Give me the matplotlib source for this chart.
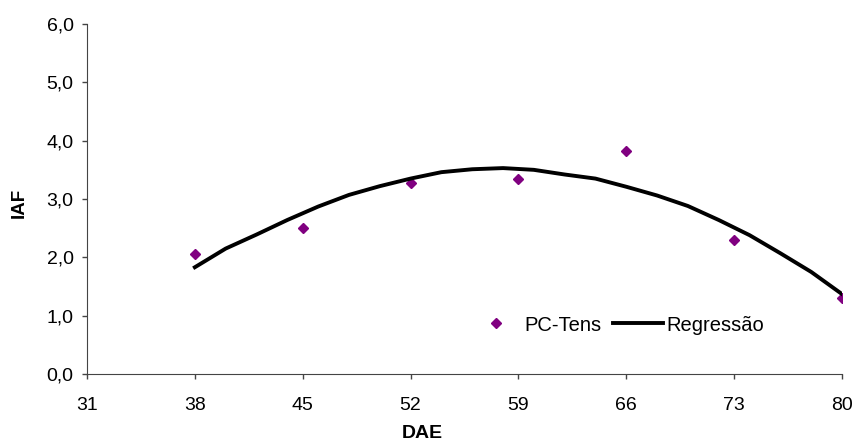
import numpy as np
import matplotlib.pyplot as plt

plt.rcParams['font.family'] = ['Liberation Sans', 'DejaVu Sans']

# observed values
dae = [38, 45, 52, 59, 66, 73, 80]
iaf = [2.05, 2.50, 3.28, 3.35, 3.83, 2.30, 1.30]

# regression curve
reg_x = [38, 40, 42, 44, 46, 48, 50, 52, 54, 56, 58, 60, 62, 64, 66, 68, 70, 72, 74, 76, 78, 80]
reg_y = [1.83, 2.15, 2.39, 2.64, 2.87, 3.07, 3.22, 3.35, 3.46, 3.51, 3.53, 3.50, 3.42, 3.35, 3.21,
         3.06, 2.88, 2.64, 2.38, 2.07, 1.75, 1.37]

xticks = [31, 38, 45, 52, 59, 66, 73, 80]
yticks = [0, 1, 2, 3, 4, 5, 6]
ytick_labels = ['0,0', '1,0', '2,0', '3,0', '4,0', '5,0', '6,0']

fig = plt.figure(figsize=(8.57, 4.47), dpi=100)
ax = fig.add_axes([0.1015, 0.1633, 0.881, 0.783])

ax.plot(dae, iaf, linestyle='none', marker='D', markersize=4.6, color='#800080', label='PC-Tens')
ax.plot(reg_x, reg_y, color='black', linewidth=2.8, label='Regressão')

ax.set_xlim(31, 80)
ax.set_ylim(0, 6)
ax.set_xticks(xticks)
ax.set_xticklabels([str(v) for v in xticks])
ax.set_yticks(yticks)
ax.set_yticklabels(ytick_labels)
ax.tick_params(labelsize=14, direction='out', length=3.6, width=1, colors='#444444', labelcolor='black')
ax.tick_params(axis='x', pad=13)
ax.tick_params(axis='y', pad=6)

for s in ['top', 'right']:
    ax.spines[s].set_visible(False)
for s in ['left', 'bottom']:
    ax.spines[s].set_color('#444444')

ax.set_xlabel('DAE', fontsize=14, fontweight='bold')
ax.xaxis.set_label_coords(0.444, -0.147)
ax.set_ylabel('IAF', fontsize=13.5, fontweight='bold')
ax.yaxis.set_label_coords(-0.079, 0.49)

ax.legend(loc='center', bbox_to_anchor=(0.703, 0.14), ncol=2, frameon=False, fontsize=14.5,
          handlelength=2.45, handletextpad=0.2, columnspacing=0.6)

plt.savefig('out.png', dpi=100)
